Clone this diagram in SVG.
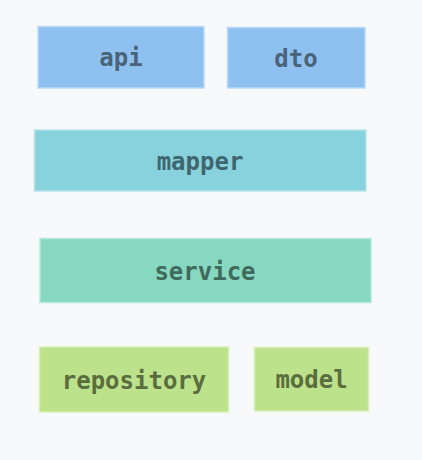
<svg xmlns="http://www.w3.org/2000/svg" width="422" height="460" viewBox="0 0 422 460">
<style>
.lbl{font-family:"DejaVu Sans Mono","Liberation Mono",monospace;font-size:24px;font-weight:bold;text-anchor:middle;dominant-baseline:central}
.blue rect{fill:#8fc1f0;stroke:#b9daf7;stroke-width:1.5}
.blue text{fill:#4b6378}
.teal rect{fill:#88d2dd;stroke:#b4e3ea;stroke-width:1.5}
.teal text{fill:#3f666f}
.mint rect{fill:#86d8c0;stroke:#b3e8d8;stroke-width:1.5}
.mint text{fill:#3f6a5c}
.lime rect{fill:#bde28c;stroke:#d6efb4;stroke-width:1.5}
.lime text{fill:#5a6d3f}
</style>
<rect width="422" height="460" fill="#f8f9fb"/>
<g id="connectors"></g>
<g id="api" class="blue"><rect x="38" y="26.5" width="166" height="61.5"/><text class="lbl" x="121" y="58">api</text></g>
<g id="dto" class="blue"><rect x="227.5" y="27.5" width="137.5" height="60.5"/><text class="lbl" x="296" y="58.5">dto</text></g>
<g id="mapper" class="teal"><rect x="34.5" y="130" width="331.5" height="61"/><text class="lbl" x="200" y="161.5">mapper</text></g>
<g id="service" class="mint"><rect x="40" y="238.5" width="331" height="64"/><text class="lbl" x="205" y="271.5">service</text></g>
<g id="repository" class="lime"><rect x="39.5" y="347" width="189" height="65"/><text class="lbl" x="134" y="380.5">repository</text></g>
<g id="model" class="lime"><rect x="254.5" y="347.5" width="114" height="63.5"/><text class="lbl" x="311.5" y="380">model</text></g>
</svg>
